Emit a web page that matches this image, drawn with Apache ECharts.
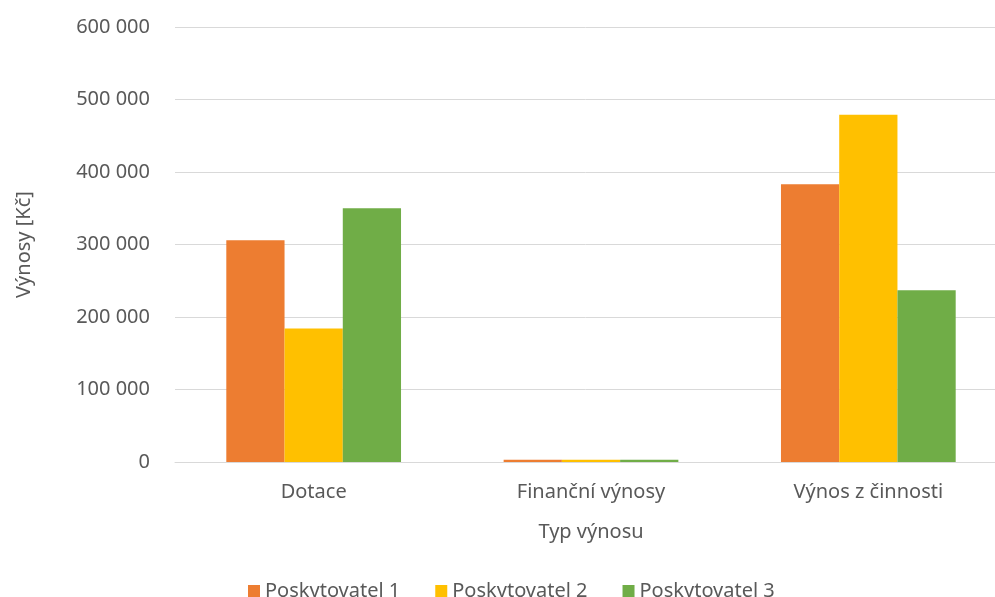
<!DOCTYPE html>
<html>
<head>
<meta charset="utf-8">
<script src="https://cdn.jsdelivr.net/npm/echarts@6/dist/echarts.min.js"></script>
<style>
  html, body { margin: 0; padding: 0; background: #ffffff; }
  #chart { width: 995px; height: 597px; }
</style>
</head>
<body>
<div id="chart"></div>
<script>
// Revenue by type and provider (Kč)
const categories = ['Dotace', 'Finanční výnosy', 'Výnos z činnosti'];
const seriesNames = ['Poskytovatel 1', 'Poskytovatel 2', 'Poskytovatel 3'];
const provider1 = [306000, 3000, 383000];
const provider2 = [184000, 3000, 479000];
const provider3 = [350000, 3000, 237000];
const seriesColors = ['#ED7D31', '#FFC000', '#70AD47'];

const FONT = 'Noto Sans';
const TEXT = '#595959';

const formatThousands = v => String(v).replace(/\B(?=(\d{3})+(?!\d))/g, ' ');

const chart = echarts.init(document.getElementById('chart'), null, { renderer: 'canvas' });

const values = [provider1, provider2, provider3];

chart.setOption({
  animation: false,
  backgroundColor: '#ffffff',
  textStyle: { fontFamily: FONT, color: TEXT },
  grid: { left: 175, top: 27, width: 832, bottom: 135, containLabel: false, outerBoundsMode: 'none' },
  legend: {
    top: 576,
    left: 243,
    itemWidth: 12,
    itemHeight: 12,
    itemGap: 35,
    icon: 'rect',
    textStyle: { fontFamily: FONT, fontSize: 20, color: TEXT },
    data: seriesNames
  },
  xAxis: {
    type: 'category',
    data: categories,
    name: 'Typ výnosu',
    nameLocation: 'middle',
    nameGap: 60,
    nameTextStyle: { fontFamily: FONT, fontSize: 20, color: TEXT },
    axisLine: { lineStyle: { color: '#d9d9d9', width: 1 } },
    axisTick: { show: false },
    axisLabel: { margin: 20, fontFamily: FONT, fontSize: 20, color: TEXT }
  },
  yAxis: {
    type: 'value',
    min: 0,
    max: 600000,
    interval: 100000,
    name: 'Výnosy [Kč]',
    nameLocation: 'middle',
    nameGap: 141,
    nameTextStyle: { fontFamily: FONT, fontSize: 20, color: TEXT },
    axisLine: { show: false },
    axisTick: { show: false },
    splitLine: { lineStyle: { color: '#d9d9d9', width: 1 } },
    axisLabel: { margin: 25, fontFamily: FONT, fontSize: 20, color: TEXT, formatter: formatThousands }
  },
  series: seriesNames.map((name, i) => ({
    name,
    type: 'bar',
    data: values[i],
    barGap: '0%',
    barCategoryGap: '37%',
    itemStyle: { color: seriesColors[i] }
  }))
});
</script>
</body>
</html>
